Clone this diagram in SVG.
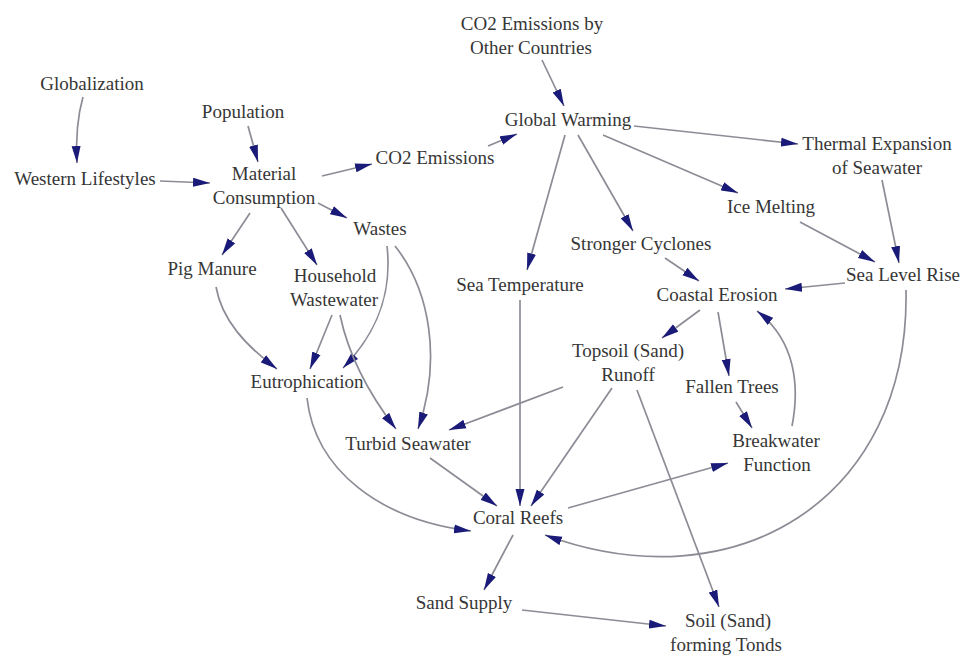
<svg xmlns="http://www.w3.org/2000/svg" width="963" height="657" viewBox="0 0 963 657">
<defs>
<marker id="ah" markerUnits="userSpaceOnUse" markerWidth="18" markerHeight="10" refX="17" refY="5" orient="auto">
<path d="M0,0.5 L17,5 L0,9.5 z" fill="#1a1a78" stroke="none"/>
</marker>
</defs>
<rect width="963" height="657" fill="#ffffff"/>
<g id="connectors" fill="none" stroke="#8c8c96" stroke-width="1.7" marker-end="url(#ah)">
<path d="M83,97 Q75,125 77,163"/>
<path d="M248,126 L258,162"/>
<path d="M160,181 L210,183"/>
<path d="M322,176 L372,164"/>
<path d="M488,146 L517,134"/>
<path d="M542,60 L564,106"/>
<path d="M634,126 L798,144"/>
<path d="M603,135 L738,193"/>
<path d="M578,135 L633,231"/>
<path d="M565,135 L527,270"/>
<path d="M318,203 L347,218"/>
<path d="M250,213 L222,255"/>
<path d="M281,208 L317,265"/>
<path d="M387,246 C392,290 380,330 343,368"/>
<path d="M395,246 C430,290 442,360 418,429"/>
<path d="M216,287 C222,320 245,345 277,369"/>
<path d="M332,315 L310,369"/>
<path d="M340,315 Q352,372 396,429"/>
<path d="M307,398 C315,470 380,520 471,531"/>
<path d="M430,458 L497,506"/>
<path d="M520,300 L520,506"/>
<path d="M612,388 L531,506"/>
<path d="M563,387 L449,430"/>
<path d="M513,535 L484,590"/>
<path d="M522,610 L666,626"/>
<path d="M568,508 L728,463"/>
<path d="M906,290 C910,500 735,605 545,535"/>
<path d="M637,390 L719,607"/>
<path d="M700,310 L662,338"/>
<path d="M718,312 L729,376"/>
<path d="M736,402 L752,428"/>
<path d="M792,426 C800,385 795,340 757,311"/>
<path d="M845,283 L785,289"/>
<path d="M800,222 L875,262"/>
<path d="M882,180 L899,263"/>
<path d="M665,258 L699,281"/>
</g>
<g id="nodes" font-family="Liberation Serif, serif" font-size="19" fill="#363636" text-anchor="middle">
<g id="co2-other"><text x="532" y="30">CO2 Emissions by</text><text x="531" y="54">Other Countries</text></g>
<g id="globalization"><text x="92" y="90">Globalization</text></g>
<g id="population"><text x="243" y="118">Population</text></g>
<g id="western-lifestyles"><text x="85" y="185">Western Lifestyles</text></g>
<g id="material-consumption"><text x="264" y="180">Material</text><text x="264" y="204">Consumption</text></g>
<g id="co2-emissions"><text x="435" y="164">CO2 Emissions</text></g>
<g id="global-warming"><text x="568" y="126">Global Warming</text></g>
<g id="thermal-expansion"><text x="877" y="150">Thermal Expansion</text><text x="877" y="174">of Seawater</text></g>
<g id="ice-melting"><text x="771" y="213">Ice Melting</text></g>
<g id="wastes"><text x="380" y="235">Wastes</text></g>
<g id="stronger-cyclones"><text x="641" y="250">Stronger Cyclones</text></g>
<g id="pig-manure"><text x="212" y="275">Pig Manure</text></g>
<g id="household-wastewater"><text x="335" y="282">Household</text><text x="334" y="306">Wastewater</text></g>
<g id="sea-temperature"><text x="520" y="291">Sea Temperature</text></g>
<g id="sea-level-rise"><text x="903" y="281">Sea Level Rise</text></g>
<g id="coastal-erosion"><text x="717" y="301">Coastal Erosion</text></g>
<g id="topsoil-runoff"><text x="628" y="357">Topsoil (Sand)</text><text x="628" y="381">Runoff</text></g>
<g id="fallen-trees"><text x="732" y="393">Fallen Trees</text></g>
<g id="eutrophication"><text x="307" y="388">Eutrophication</text></g>
<g id="breakwater-function"><text x="776" y="447">Breakwater</text><text x="777" y="471">Function</text></g>
<g id="turbid-seawater"><text x="408" y="450">Turbid Seawater</text></g>
<g id="coral-reefs"><text x="518" y="524">Coral Reefs</text></g>
<g id="sand-supply"><text x="464" y="609">Sand Supply</text></g>
<g id="soil-forming"><text x="728" y="627">Soil (Sand)</text><text x="726" y="651">forming Tonds</text></g>
</g>
</svg>
